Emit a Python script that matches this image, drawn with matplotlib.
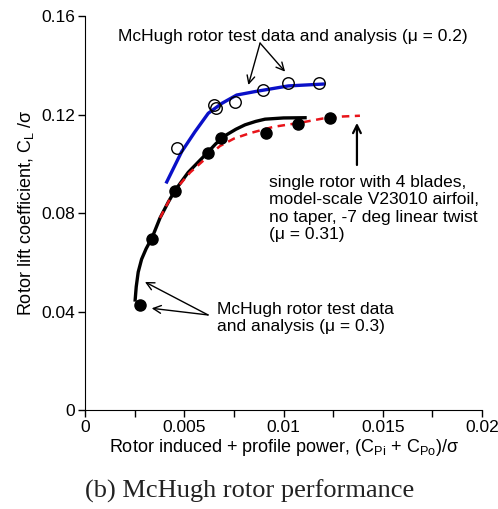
import matplotlib
matplotlib.use("Agg")
import matplotlib.pyplot as plt
from matplotlib.ticker import MultipleLocator

plt.rcParams['font.family'] = ['Liberation Sans', 'DejaVu Sans']
plt.rcParams['mathtext.fontset'] = 'custom'
plt.rcParams['mathtext.rm'] = 'Liberation Sans'
plt.rcParams['mathtext.it'] = 'Liberation Sans'

# mu = 0.2 test data (open circles) and analysis (blue)
test_02_x = [0.00462, 0.00652, 0.00659, 0.00756, 0.00898, 0.01021, 0.01179]
test_02_y = [0.1063, 0.1238, 0.1225, 0.1250, 0.1299, 0.1329, 0.1329]
anal_02_x = [0.00408, 0.00487, 0.00554, 0.00621, 0.00689, 0.00764, 0.00856, 0.01024, 0.01209]
anal_02_y = [0.0920, 0.1049, 0.1130, 0.1205, 0.1245, 0.1279, 0.1293, 0.1316, 0.1324]

# mu = 0.3 test data (filled circles) and analysis (black)
test_03_x = [0.00279, 0.00338, 0.00453, 0.00621, 0.00684, 0.0091, 0.01075, 0.01234]
test_03_y = [0.0426, 0.0693, 0.0891, 0.1045, 0.1103, 0.1124, 0.1161, 0.1184]
anal_03_x = [0.00252, 0.00258, 0.00268, 0.00285, 0.00308, 0.00338, 0.00378, 0.00420,
             0.00453, 0.00520, 0.00613, 0.00660, 0.00714, 0.00760, 0.00806, 0.00860,
             0.00907, 0.01000, 0.01117]
anal_03_y = [0.0440, 0.0500, 0.0560, 0.0612, 0.0655, 0.0700, 0.0780, 0.0845,
             0.0891, 0.0965, 0.1042, 0.1082, 0.1118, 0.1140, 0.1158, 0.1172,
             0.1181, 0.1186, 0.1187]

# single rotor, 4 blades, mu = 0.31 (red dashed)
single_x = [0.00378, 0.00420, 0.0045, 0.0053, 0.0062, 0.0068, 0.0075, 0.0083, 0.0095,
            0.0108, 0.0120, 0.0130, 0.01385]
single_y = [0.0780, 0.0845, 0.0890, 0.0965, 0.1030, 0.1072, 0.1102, 0.1124, 0.1150,
            0.1166, 0.1184, 0.1192, 0.1195]

fig = plt.figure(figsize=(4.98, 5.09), dpi=100)
ax = fig.add_axes([85/498, 99/509, 397/498, 394/509])

ax.plot(anal_02_x, anal_02_y, color='#0a10c8', lw=2.4, solid_capstyle='butt')
ax.plot(test_02_x, test_02_y, 'o', mfc='none', mec='black', mew=1.0, ms=8.3)
ax.plot(anal_03_x, anal_03_y, color='black', lw=2.4, solid_capstyle='butt')
ax.plot(single_x, single_y, '--', color='#e8141a', lw=1.8, dashes=(3, 2.2))
ax.plot(test_03_x, test_03_y, 'o', color='black', ms=8)

ax.set_xlim(0, 0.02)
ax.set_ylim(0, 0.16)
ax.xaxis.set_minor_locator(MultipleLocator(0.0025))
ax.set_xticks([0, 0.005, 0.01, 0.015, 0.02])
ax.set_xticklabels(['0', '0.005', '0.01', '0.015', '0.02'])
ax.set_yticks([0, 0.04, 0.08, 0.12, 0.16])
ax.set_yticklabels(['0', '0.04', '0.08', '0.12', '0.16'])
ax.tick_params(which='both', direction='out', length=5, width=1, labelsize=12.5, pad=2)
ax.spines['top'].set_visible(False)
ax.spines['right'].set_visible(False)

ax.set_xlabel(r'Rotor induced + profile power, (C$_{\rm Pi}$ + C$_{\rm Po}$)/σ', fontsize=13, labelpad=2)
ax.set_ylabel(r'Rotor lift coefficient, C$_{\rm L}$ /σ', fontsize=13, labelpad=4)

arrow = dict(arrowstyle='->', color='black', lw=1.0, shrinkA=0, shrinkB=0,
             mutation_scale=14)

ax.text(0.01048, 0.1515, 'McHugh rotor test data and analysis (μ = 0.2)',
        ha='center', va='center', fontsize=12.5)
ax.annotate('', xy=(0.00823, 0.132), xytext=(0.00882, 0.149), arrowprops=arrow)
ax.annotate('', xy=(0.01008, 0.1374), xytext=(0.00882, 0.149), arrowprops=arrow)

ax.text(0.00927, 0.0955, 'single rotor with 4 blades,\nmodel-scale V23010 airfoil,\n'
        'no taper, -7 deg linear twist\n(μ = 0.31)',
        ha='left', va='top', fontsize=12.5, linespacing=1.2)
ax.annotate('', xy=(0.0137, 0.1166), xytext=(0.0137, 0.0995),
            arrowprops=dict(arrow, lw=1.6))

ax.text(0.00663, 0.0440, 'McHugh rotor test data\nand analysis (μ = 0.3)',
        ha='left', va='top', fontsize=12.5, linespacing=1.2)
ax.annotate('', xy=(0.00302, 0.052), xytext=(0.0062, 0.0386), arrowprops=arrow)
ax.annotate('', xy=(0.00336, 0.0413), xytext=(0.0062, 0.0386), arrowprops=arrow)

fig.text(250/498, 1 - 491/509, '(b) McHugh rotor performance', ha='center', va='center',
         fontsize=19, family='Liberation Serif', color='#222222')

fig.savefig('out.png', dpi=100)
